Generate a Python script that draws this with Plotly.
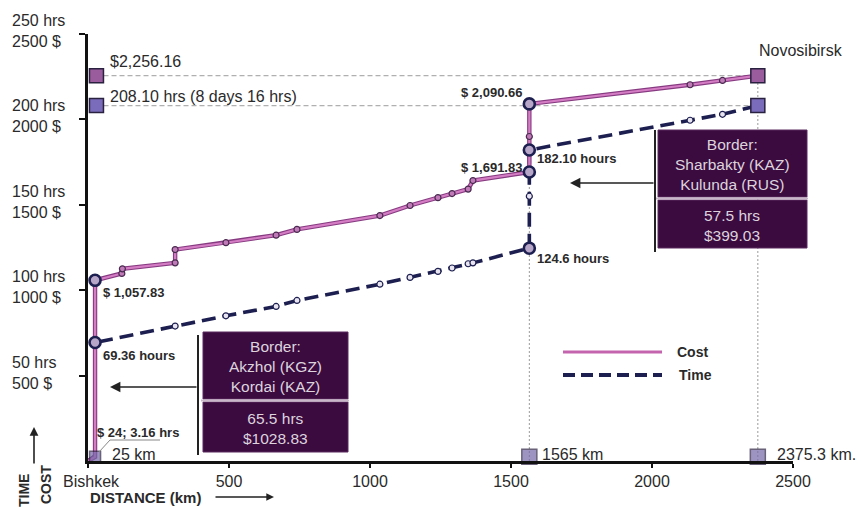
import plotly.graph_objects as go

# ---------------- data ----------------
cost_km = [0, 25, 25, 120, 122, 309, 309, 489, 667, 741, 1035, 1142, 1241, 1291, 1348, 1365, 1565, 1565, 1565, 2135, 2250, 2375.3]
cost_usd = [0, 24, 1057.83, 1098, 1125, 1160, 1238, 1278, 1322, 1356, 1437, 1496, 1542, 1566, 1592, 1642, 1691.83, 1900, 2090.66, 2203, 2228, 2256.16]

time_km = [0, 25, 25, 309, 489, 667, 741, 1035, 1142, 1241, 1291, 1348, 1365, 1565, 1565, 1565, 2135, 2250, 2375.3]
time_hrs = [0, 3.16, 69.36, 79.0, 85.0, 90.5, 94.0, 103.5, 107.5, 111.0, 113.0, 115.5, 116.0, 124.6, 155.0, 182.10, 199.5, 203.0, 208.10]

key_km = [25, 1565, 1565]
key_cost = [1057.83, 1691.83, 2090.66]
key_time = [69.36, 124.6, 182.10]

start_km = 30
end_km = 2375.3
end_cost = 2256.16
end_time = 208.10
milestone_km = [25, 1565, 2375.3]
milestone_labels = ["25 km", "1565 km", "2375.3 km."]

x_ticks = [0, 500, 1000, 1500, 2000, 2500]
x_ticktext = ["", "500", "1000", "1500", "2000", "2500"]
y_ticks = [500, 1000, 1500, 2000, 2500]
y_ticktext = ["50 hrs<br>500 $", "100 hrs<br>1000 $", "150 hrs<br>1500 $", "200 hrs<br>2000 $", "250 hrs<br>2500 $"]

HRS_TO_AXIS = 10  # 1 hr shares the axis with 10 $

time_axis = [h * HRS_TO_AXIS for h in time_hrs]
key_time_axis = [h * HRS_TO_AXIS for h in key_time]

FONT = "Liberation Sans, Arial, sans-serif"
TXT = "#2a2a2a"
NAVY = "#1d1f50"

# pixel helpers for layout placement (layout only)
L, R, T, B = 88, 68, 34, 47
W, H = 861, 508
PW, PH = W - L - R, H - T - B


def PX(x):
    return (x - L) / PW


def PY(y):
    return (H - B - y) / PH


fig = go.Figure()

# time line
fig.add_trace(go.Scatter(x=time_km, y=time_axis, mode="lines",
                         line=dict(color=NAVY, width=3.6, dash="14px,7px"),
                         cliponaxis=False, hoverinfo="skip", showlegend=False))
# cost line (two layers)
fig.add_trace(go.Scatter(x=cost_km, y=cost_usd, mode="lines",
                         line=dict(color="#863a80", width=4.4),
                         cliponaxis=False, hoverinfo="skip", showlegend=False))
fig.add_trace(go.Scatter(x=cost_km, y=cost_usd, mode="lines",
                         line=dict(color="#d47cc4", width=2.2),
                         cliponaxis=False, hoverinfo="skip", showlegend=False))

# small markers
cm_x = [k for i, k in enumerate(cost_km) if 3 <= i < len(cost_km) - 1 and cost_usd[i] not in key_cost]
cm_y = [v for i, v in enumerate(cost_usd) if 3 <= i < len(cost_km) - 1 and v not in key_cost]
tm_x = [k for i, k in enumerate(time_km) if 3 <= i < len(time_km) - 1 and time_hrs[i] not in key_time]
tm_y = [v for i, v in enumerate(time_axis) if 3 <= i < len(time_km) - 1 and time_hrs[i] not in key_time]
fig.add_trace(go.Scatter(x=tm_x, y=tm_y, mode="markers",
                         marker=dict(size=6, color="#e8e4f0", line=dict(color=NAVY, width=1.2)),
                         hoverinfo="skip", showlegend=False))
fig.add_trace(go.Scatter(x=cm_x, y=cm_y, mode="markers",
                         marker=dict(size=6, color="#c07ab8", line=dict(color="#4a2a50", width=1.2)),
                         hoverinfo="skip", showlegend=False))

# key circles
fig.add_trace(go.Scatter(x=key_km + key_km, y=key_cost + key_time_axis, mode="markers",
                         marker=dict(size=11, color="#b8a6c8", line=dict(color=NAVY, width=2.6)),
                         hoverinfo="skip", showlegend=False))

# squares
fig.add_trace(go.Scatter(x=[start_km, end_km], y=[end_cost, end_cost], mode="markers",
                         marker=dict(symbol="square", size=14, color="#9a5c9c",
                                     line=dict(color="#2a2040", width=1.5)),
                         cliponaxis=False, hoverinfo="skip", showlegend=False))
fig.add_trace(go.Scatter(x=[start_km, end_km], y=[end_time * HRS_TO_AXIS] * 2, mode="markers",
                         marker=dict(symbol="square", size=14, color="#7a6cba",
                                     line=dict(color="#2a2040", width=1.5)),
                         cliponaxis=False, hoverinfo="skip", showlegend=False))
fig.add_trace(go.Scatter(x=milestone_km, y=[25] * len(milestone_km), mode="markers",
                         marker=dict(symbol="square", size=[11, 15, 15], color="#7468a8",
                                     line=dict(color="#2a2040", width=1.5)),
                         cliponaxis=False, hoverinfo="skip", showlegend=False))

shapes = []
# reference dashed lines
for yv in [end_cost, end_time * HRS_TO_AXIS]:
    shapes.append(dict(type="line", xref="x", yref="y", x0=start_km + 25, x1=end_km, y0=yv, y1=yv,
                       line=dict(color="#b0b0b0", width=1.2, dash="5px,3px"), layer="below"))
shapes.append(dict(type="line", xref="x", yref="y", x0=1565, x1=1565, y0=0, y1=key_cost[2],
                   line=dict(color="#9a9a9a", width=1, dash="2px,2px"), layer="below"))
shapes.append(dict(type="line", xref="x", yref="y", x0=end_km, x1=end_km, y0=0, y1=end_cost,
                   line=dict(color="#9a9a9a", width=1, dash="2px,2px"), layer="below"))

BOX = "#3b0b40"
# box 1 (Sharbakty)
for (y0, y1) in [(130, 197), (200, 248)]:
    shapes.append(dict(type="rect", xref="paper", yref="paper", x0=PX(658), x1=PX(807),
                       y0=PY(y1), y1=PY(y0), fillcolor=BOX, line=dict(color="#5a2a5e", width=1)))
shapes.append(dict(type="line", xref="paper", yref="paper", x0=PX(656), x1=PX(808), y0=PY(198.5), y1=PY(198.5),
                   line=dict(color="#c9b6c9", width=2)))
shapes.append(dict(type="line", xref="paper", yref="paper", x0=PX(655), x1=PX(655), y0=PY(252), y1=PY(130),
                   line=dict(color="#222", width=2)))
# box 2 (Akzhol)
for (y0, y1) in [(332, 399), (402, 452)]:
    shapes.append(dict(type="rect", xref="paper", yref="paper", x0=PX(203), x1=PX(348),
                       y0=PY(y1), y1=PY(y0), fillcolor=BOX, line=dict(color="#5a2a5e", width=1)))
shapes.append(dict(type="line", xref="paper", yref="paper", x0=PX(201), x1=PX(349), y0=PY(400.5), y1=PY(400.5),
                   line=dict(color="#c9b6c9", width=2)))
shapes.append(dict(type="line", xref="paper", yref="paper", x0=PX(198), x1=PX(198), y0=PY(455), y1=PY(335),
                   line=dict(color="#222", width=2)))
# legend lines
shapes.append(dict(type="line", xref="paper", yref="paper", x0=PX(563), x1=PX(662), y0=PY(352), y1=PY(352),
                   line=dict(color="#c464ae", width=3)))
shapes.append(dict(type="line", xref="paper", yref="paper", x0=PX(563), x1=PX(662), y0=PY(375), y1=PY(375),
                   line=dict(color=NAVY, width=4, dash="12px,6px")))
# leader under "$ 24; 3.16 hrs"
shapes.append(dict(type="path", xref="paper", yref="paper",
                   path=f"M {PX(160)},{PY(440)} L {PX(110)},{PY(440)} L {PX(99)},{PY(452)}",
                   line=dict(color="#888", width=1)))


def ann(text, x, y, size=16, bold=False, anchor="left", color=TXT, **kw):
    t = f"<b>{text}</b>" if bold else text
    return dict(text=t, xref="paper", yref="paper", x=PX(x), y=PY(y), xanchor=anchor, yanchor="middle",
                showarrow=False, font=dict(family=FONT, size=size, color=color), **kw)


annotations = [
    ann(f"${end_cost:,.2f}", 108, 62),
    ann(f"{end_time:.2f} hrs (8 days 16 hrs)", 108, 96),
    ann("Novosibirsk", 757, 50),
    ann(f"$ {key_cost[2]:,.2f}", 524, 92, size=13, bold=True, anchor="right"),
    ann(f"{key_time[2]:.2f} hours", 535, 158, size=13, bold=True),
    ann(f"$ {key_cost[1]:,.2f}", 524, 167, size=13, bold=True, anchor="right"),
    ann(f"{key_time[1]} hours", 535, 258, size=13, bold=True),
    ann(f"$ {key_cost[0]:,.2f}", 101, 292, size=13, bold=True),
    ann(f"{key_time[0]} hours", 101, 355, size=13, bold=True),
    ann(f"$ {cost_usd[1]}; {time_hrs[1]} hrs", 95, 432, size=13, bold=True),
    ann("Cost", 675, 352, size=14, bold=True),
    ann("Time", 677, 375, size=14, bold=True),
    ann("Bishkek", 61, 481),
    ann("DISTANCE (km)", 88, 497, size=15, bold=True),
    ann("Border:<br>Sharbakty (KAZ)<br>Kulunda (RUS)", 732, 164, size=15.5, anchor="center", color="#ddd3dd"),
    ann("57.5 hrs<br>$399.03", 732, 225, size=15.5, anchor="center", color="#ddd3dd"),
    ann("Border:<br>Akzhol (KGZ)<br>Kordai (KAZ)", 275, 366, size=15.5, anchor="center", color="#ddd3dd"),
    ann("65.5 hrs<br>$1028.83", 275, 428, size=15.5, anchor="center", color="#ddd3dd"),
    dict(text="<b>TIME</b>", xref="paper", yref="paper", x=PX(24), y=PY(491), textangle=-90,
         showarrow=False, font=dict(family=FONT, size=14, color=TXT), xanchor="center", yanchor="middle"),
    dict(text="<b>COST</b>", xref="paper", yref="paper", x=PX(46), y=PY(485), textangle=-90,
         showarrow=False, font=dict(family=FONT, size=14, color=TXT), xanchor="center", yanchor="middle"),
    # arrows
    dict(text="", xref="paper", yref="paper", x=PX(570), y=PY(183), ax=85, ay=0, showarrow=True,
         arrowhead=2, arrowsize=1.3, arrowwidth=1.6, arrowcolor="#222"),
    dict(text="", xref="paper", yref="paper", x=PX(110), y=PY(387), ax=88, ay=0, showarrow=True,
         arrowhead=2, arrowsize=1.3, arrowwidth=1.6, arrowcolor="#222"),
    dict(text="", xref="paper", yref="paper", x=PX(274), y=PY(497), ax=-60, ay=0, showarrow=True,
         arrowhead=2, arrowsize=1.1, arrowwidth=1.4, arrowcolor="#222"),
    dict(text="", xref="paper", yref="paper", x=PX(34), y=PY(427), ax=0, ay=38, showarrow=True,
         arrowhead=2, arrowsize=1.1, arrowwidth=1.6, arrowcolor="#222"),
]
for lbl, km in zip(milestone_labels, milestone_km):
    xpix = {25: 110, 1565: 540, 2375.3: 775}[km]
    annotations.append(ann(lbl, xpix, 454))
for tv, tt in zip(y_ticks, y_ticktext):
    annotations.append(dict(text=tt, xref="paper", yref="y", x=PX(10), y=tv, yshift=3, xanchor="left",
                            yanchor="middle", align="left", showarrow=False,
                            font=dict(family=FONT, size=16, color=TXT)))

fig.update_layout(
    width=W, height=H, margin=dict(l=L, r=R, t=T, b=B),
    paper_bgcolor="white", plot_bgcolor="white",
    font=dict(family=FONT, size=16, color=TXT),
    xaxis=dict(range=[0, 2500], tickvals=x_ticks, ticktext=x_ticktext, showgrid=False, zeroline=False,
               showline=True, linecolor="#111", linewidth=2.5, ticks="outside", ticklen=4, tickwidth=2,
               tickcolor="#111", tickfont=dict(size=16, color=TXT, family=FONT)),
    yaxis=dict(range=[0, 2500], tickvals=y_ticks, showticklabels=False, showgrid=False, zeroline=False,
               showline=True, linecolor="#111", linewidth=2.5, ticks="outside", ticklen=6, tickwidth=2,
               tickcolor="#111"),
    shapes=shapes, annotations=annotations, showlegend=False,
)

fig.write_html("out.html", config={"displayModeBar": False},
               post_script="document.body.style.margin='0';document.body.style.overflow='hidden';")
